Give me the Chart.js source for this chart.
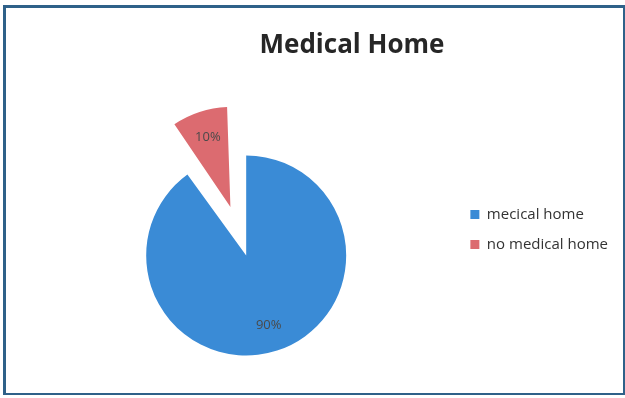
<!DOCTYPE html>
<html lang="en">
<head>
  <meta charset="UTF-8" />
  <title>Medical Home</title>
  <script src="https://cdn.jsdelivr.net/npm/chart.js"></script>
  <style>
    body {
      margin: 0;
      background: #fff;
      font-family: "Open Sans", Arial, sans-serif;
    }
    .chart-box {
      position: absolute;
      left: 3px;
      top: 5px;
      width: 622px;
      height: 390px;
      box-sizing: border-box;
      border-style: solid;
      border-color: #2f6189;
      border-width: 3px 2px 2px 3px;
      background: #fff;
    }
    .chart-title {
      position: absolute;
      left: 0;
      top: 17px;
      width: 692px;
      text-align: center;
      font-family: "Open Sans", Arial, sans-serif;
      font-weight: bold;
      font-size: 26px;
      color: #262626;
    }
    canvas {
      position: absolute;
      left: 0;
      top: 0;
    }
  </style>
</head>
<body>

  <div class="chart-box">
    <canvas id="pieChart" width="617" height="385"></canvas>
    <div class="chart-title">Medical Home</div>
  </div>

  <script>
    // Categories and shares (%)
    const labels = ['mecical home', 'no medical home'];
    const shares = [90, 10];
    const colors = ['#3a8bd6', '#dc6b70'];
    // Chart.js draws an arc's offset at a quarter of this value
    const explode = [0, 204];
    const pieRadius = 100;

    // Narrow exploded arcs get drawn with a bigger radius; pull it back
    // so every slice keeps the same radius.
    const evenRadius = {
      id: 'evenRadius',
      afterDatasetUpdate(chart, args) {
        args.meta.data.forEach(arc => {
          const off = (arc.options.offset || 0) / 4;
          const fix = 1 - Math.sin(Math.min(Math.PI, arc.circumference || 0));
          arc.outerRadius = pieRadius - off * fix;
        });
      }
    };

    // Percent labels drawn inside each slice
    const sliceLabels = {
      id: 'sliceLabels',
      afterDatasetsDraw(chart) {
        const ctx = chart.ctx;
        const meta = chart.getDatasetMeta(0);
        ctx.save();
        ctx.font = '13px "Open Sans", Arial, sans-serif';
        ctx.fillStyle = '#4a4a4a';
        ctx.textAlign = 'center';
        ctx.textBaseline = 'middle';
        meta.data.forEach((arc, i) => {
          const p = arc.getProps(['x', 'y', 'startAngle', 'endAngle'], true);
          const mid = (p.startAngle + p.endAngle) / 2;
          const d = (arc.options.offset || 0) / 4 + pieRadius * 0.73;
          ctx.fillText(shares[i] + '%', p.x + Math.cos(mid) * d, p.y + Math.sin(mid) * d);
        });
        ctx.restore();
      }
    };

    const pieCtx = document.getElementById('pieChart').getContext('2d');
    const pieChart = new Chart(pieCtx, {
      type: 'pie',
      data: {
        labels: labels,
        datasets: [{
          data: shares,
          backgroundColor: colors,
          borderWidth: 0,
          offset: explode,
          hoverOffset: 0
        }]
      },
      options: {
        responsive: false,
        animation: false,
        radius: pieRadius,
        cutout: '0%',
        layout: {
          padding: { left: 31, right: 5, top: 184, bottom: 74 }
        },
        plugins: {
          legend: {
            position: 'right',
            align: 'start',
            labels: {
              boxWidth: 9,
              boxHeight: 9,
              padding: 15,
              color: '#333',
              font: { family: '"Open Sans", Arial, sans-serif', size: 15 }
            }
          },
          tooltip: { enabled: false }
        }
      },
      plugins: [evenRadius, sliceLabels]
    });
  </script>

</body>
</html>
